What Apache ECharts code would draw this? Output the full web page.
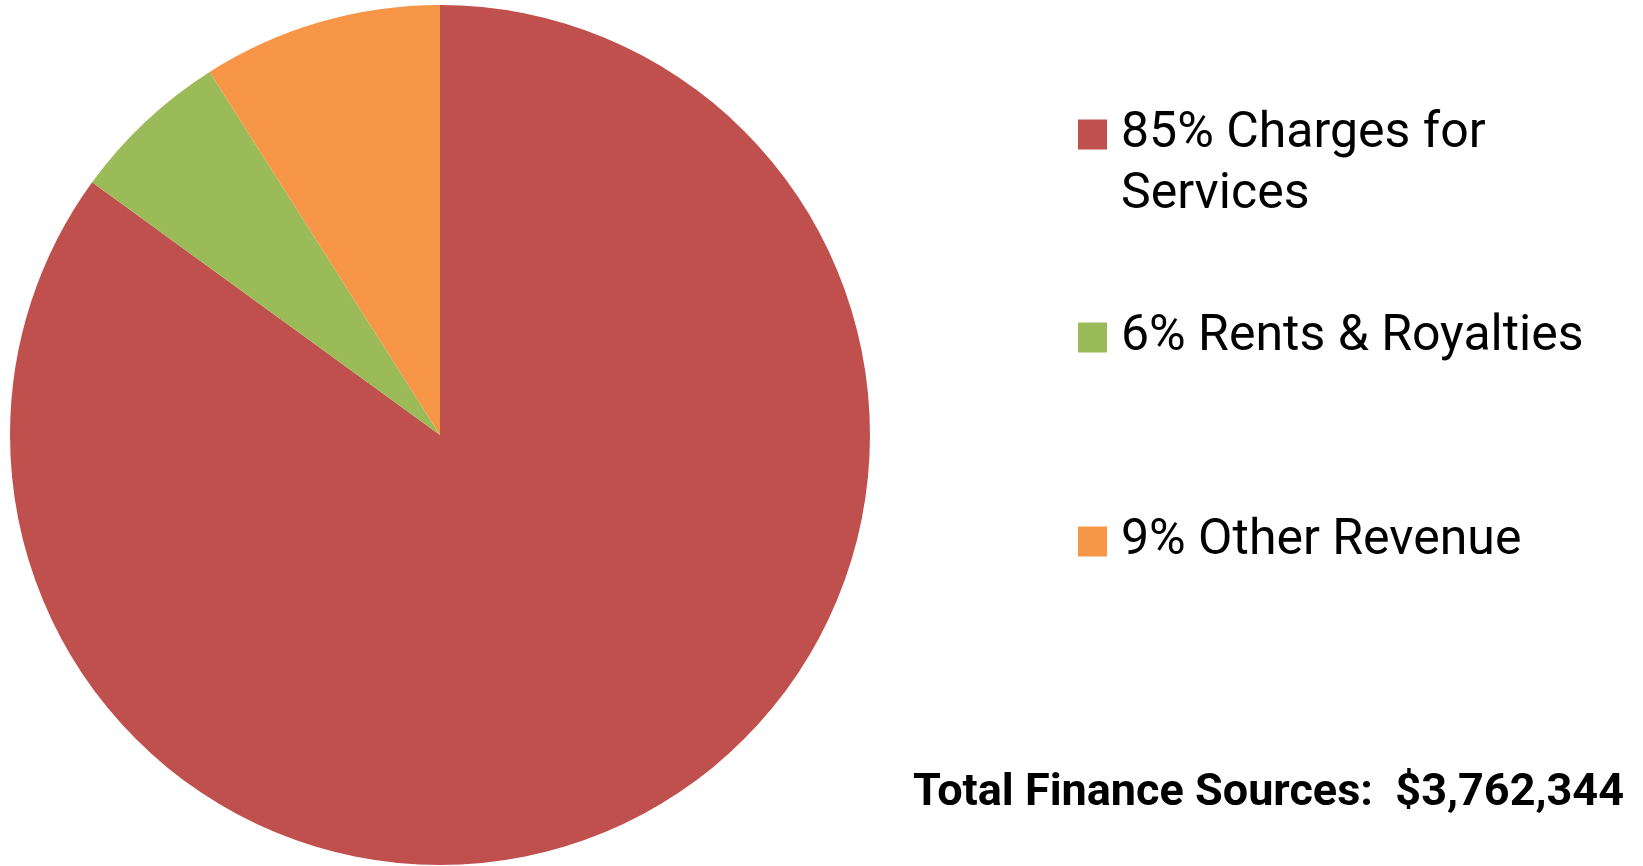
<!DOCTYPE html>
<html>
<head>
<meta charset="utf-8">
<script src="https://cdn.jsdelivr.net/npm/echarts@6/dist/echarts.min.js"></script>
<style>
  html, body { margin: 0; padding: 0; background: #ffffff; }
  #chart { width: 1643px; height: 866px; }
</style>
</head>
<body>
<div id="chart"></div>
<script>
// Finance sources, share of total (percent)
const categories = ['Charges for Services', 'Rents & Royalties', 'Other Revenue'];
const shares = [85, 6, 9];
const colors = ['#C0504D', '#9BBB59', '#F79646'];
const totalLabel = 'Total Finance Sources:  $3,762,344';

// Legend text: "NN% Name". The first entry wraps; a leading blank line keeps
// its first line level with the colour square (legend text is centred on it).
const legendText = {
  'Charges for Services': ' \n85% Charges for\nServices',
  'Rents & Royalties': '6% Rents & Royalties',
  'Other Revenue': '9% Other Revenue'
};
const legendTops = [43, 307, 511];

const FONT = 'Roboto';

const seriesData = categories.map((name, i) => ({
  name: name,
  value: shares[i],
  itemStyle: { color: colors[i] }
}));

const legends = categories.map((name, i) => ({
  data: [name],
  left: 1078,
  top: legendTops[i],
  orient: 'vertical',
  itemWidth: 29,
  itemHeight: 30,
  icon: 'rect',
  selectedMode: false,
  padding: 0,
  formatter: n => legendText[n],
  textStyle: {
    fontFamily: FONT,
    fontSize: 50,
    color: '#000000',
    lineHeight: 61,
    padding: [0, 0, 0, 9]
  }
}));

const chart = echarts.init(document.getElementById('chart'), null, { renderer: 'canvas' });
chart.setOption({
  backgroundColor: '#ffffff',
  animation: false,
  title: {
    text: totalLabel,
    right: 19,
    top: 771,
    padding: 0,
    textStyle: {
      fontFamily: FONT,
      fontSize: 45,
      fontWeight: 'bold',
      color: '#000000'
    }
  },
  legend: legends,
  series: [{
    type: 'pie',
    center: [440, 435],
    radius: [0, 430],
    startAngle: 90,
    clockwise: true,
    label: { show: false },
    labelLine: { show: false },
    itemStyle: { borderWidth: 0 },
    emphasis: { disabled: true },
    data: seriesData
  }]
});
</script>
</body>
</html>
